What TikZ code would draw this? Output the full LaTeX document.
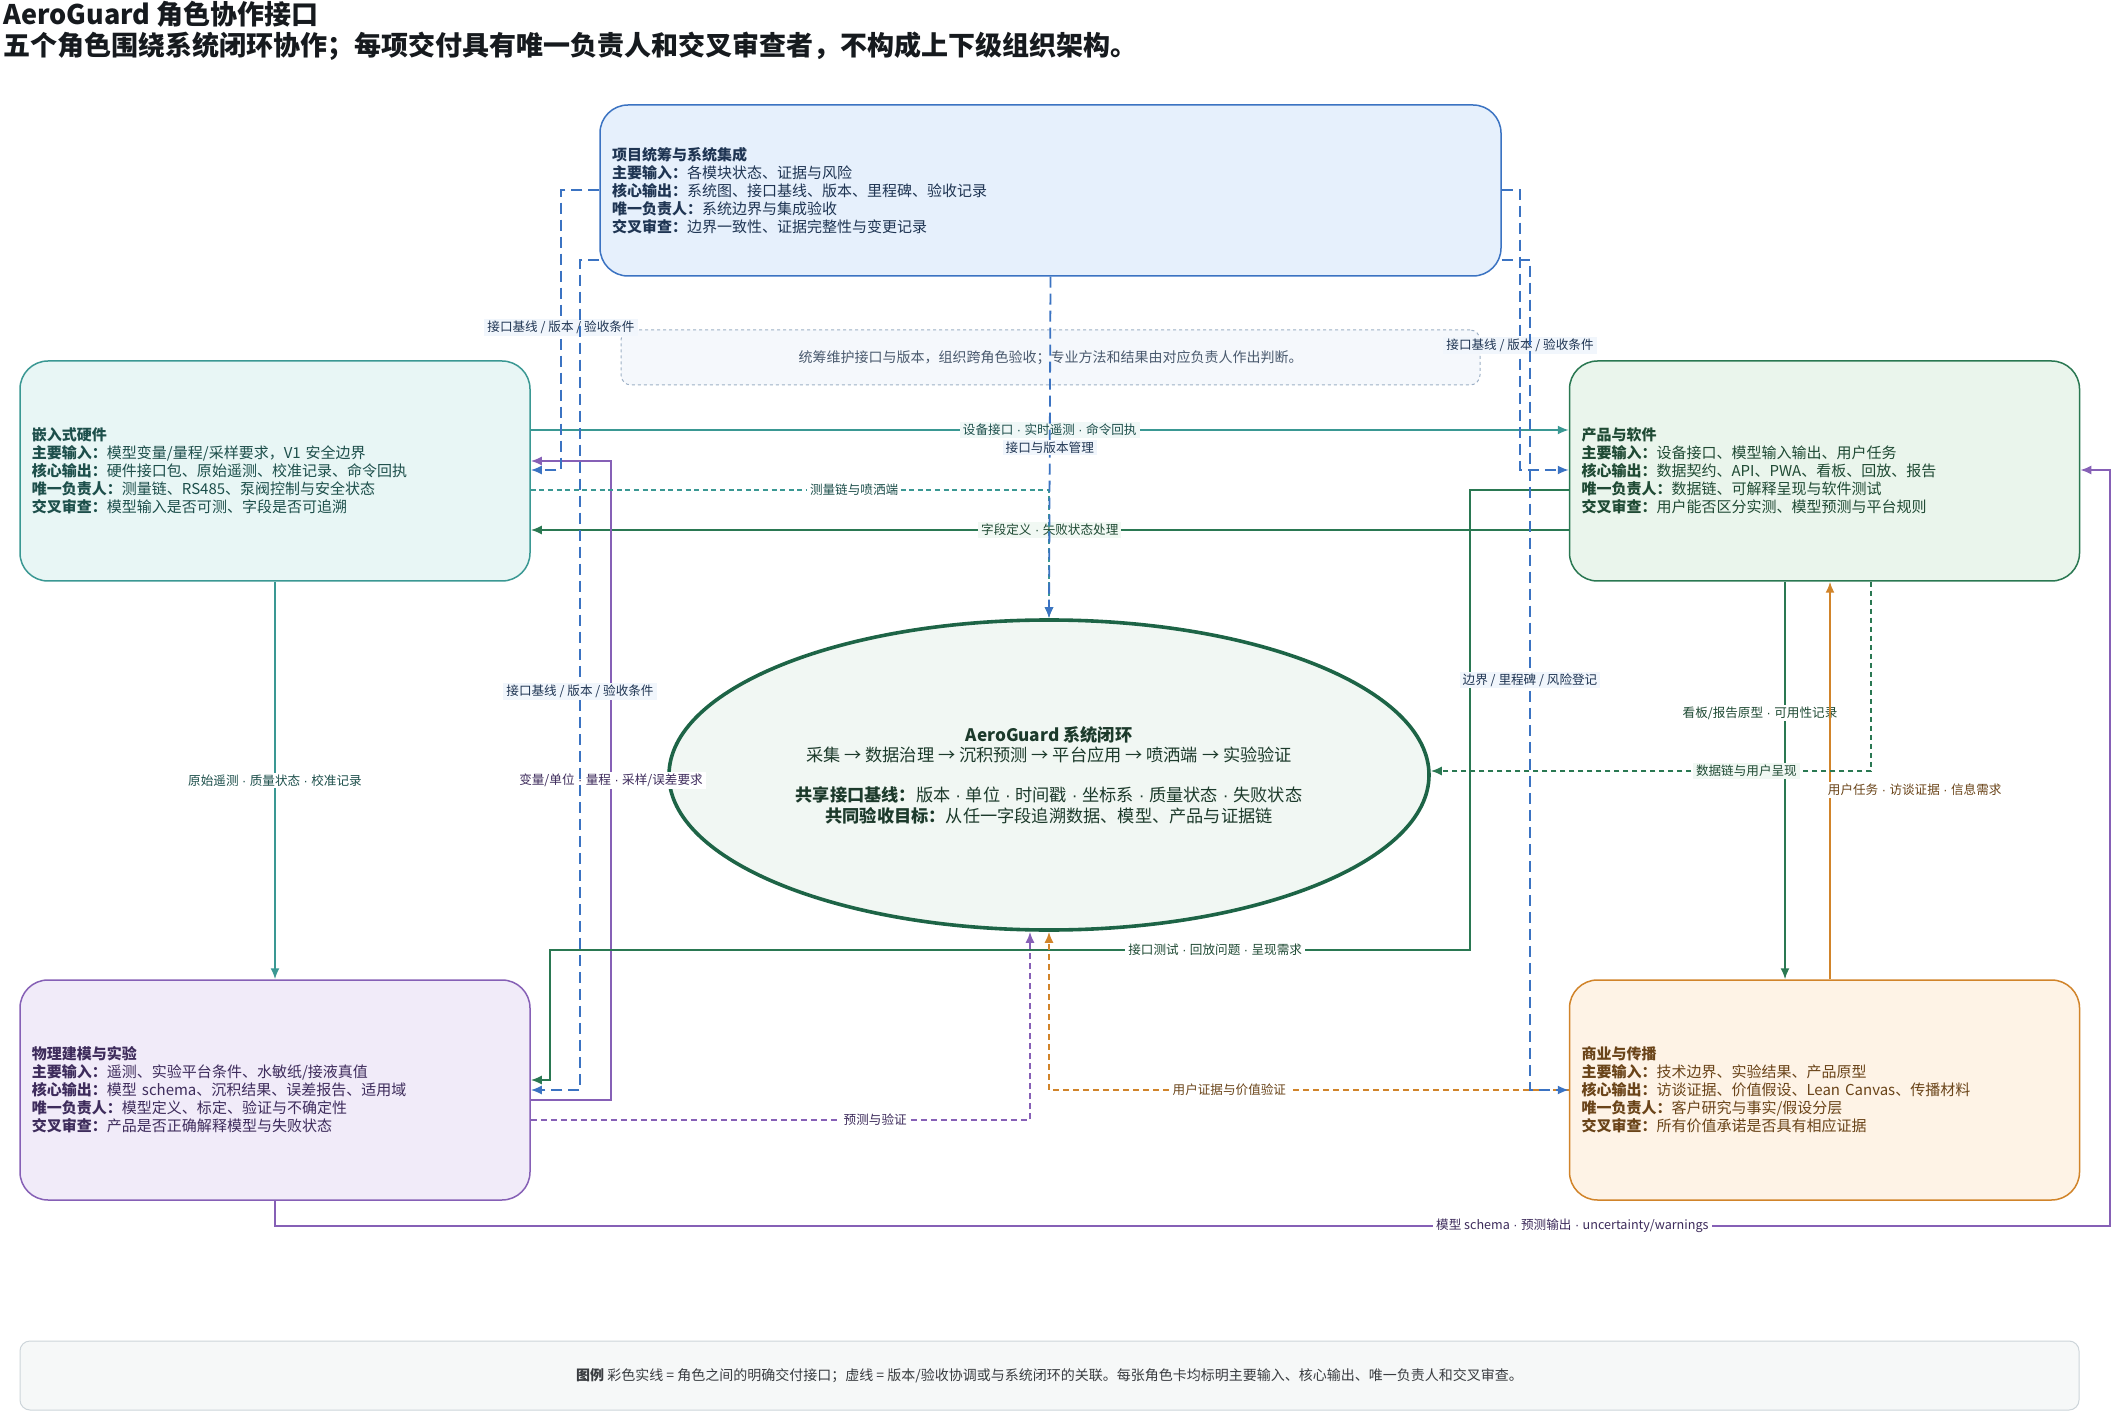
\documentclass[tikz,border=0pt]{standalone}
\usepackage{fontspec}
\setmainfont{Noto Sans CJK SC}
\newfontfamily\dotfont{Liberation Sans}
\newcommand{\mdot}{{\dotfont\ ·\ }}
\usepackage{tikz}
\usetikzlibrary{arrows.meta,positioning,shapes.geometric}
\definecolor{Tinta}{HTML}{161A1E}
\definecolor{BlueLine}{HTML}{3B73C2}
\definecolor{BlueFill}{HTML}{E6F0FC}
\definecolor{BlueText}{HTML}{1F3553}
\definecolor{BlueTag}{HTML}{F1F6FC}
\definecolor{TealLine}{HTML}{3A9893}
\definecolor{TealFill}{HTML}{E8F6F5}
\definecolor{TealText}{HTML}{1D4F4B}
\definecolor{TealTag}{HTML}{F0F8F7}
\definecolor{GreenLine}{HTML}{2A7852}
\definecolor{GreenFill}{HTML}{EAF5EC}
\definecolor{GreenText}{HTML}{1F4A34}
\definecolor{GreenTag}{HTML}{F1F8F3}
\definecolor{LoopLine}{HTML}{1D6446}
\definecolor{LoopFill}{HTML}{F1F7F3}
\definecolor{LoopText}{HTML}{1C3A2B}
\definecolor{PurpleLine}{HTML}{8660B6}
\definecolor{PurpleFill}{HTML}{F1EBF9}
\definecolor{PurpleText}{HTML}{3E2C5C}
\definecolor{PurpleTag}{HTML}{F7F3FC}
\definecolor{OrangeLine}{HTML}{D1842A}
\definecolor{OrangeFill}{HTML}{FEF3E6}
\definecolor{OrangeText}{HTML}{6A4419}
\definecolor{OrangeTag}{HTML}{FEF7EE}
\definecolor{NoteLine}{HTML}{9DB0C6}
\definecolor{NoteFill}{HTML}{F5F8FC}
\definecolor{NoteText}{HTML}{4A5A6E}
\definecolor{LegendLine}{HTML}{CDD5DA}
\definecolor{LegendFill}{HTML}{F6F8F8}

\begin{document}
\begin{tikzpicture}[
  x=0.5pt,y=-0.5pt,
  font=\fontsize{7.5}{9}\selectfont,
  card/.style={draw,rounded corners=14pt,line width=0.75pt,align=left,inner xsep=6pt,inner ysep=0pt,
    text width=243pt,minimum height=110pt},
  tag/.style={font=\fontsize{6.3}{7.5}\selectfont,inner xsep=1.5pt,inner ysep=1pt},
  flow/.style={line width=0.9pt,-{Latex[length=5.5pt,width=4.5pt]}},
  sync/.style={flow,BlueLine,dash pattern=on 5.5pt off 3pt},
  btag/.style={tag,fill=BlueTag,text=BlueText}
]
  \fill[white] (0,0) rectangle (2120,1411);
  \useasboundingbox (0,0) rectangle (2120,1411);

  % Titulo
  \node[anchor=base west,inner sep=0pt,text=Tinta,font=\fontsize{13.5}{16}\selectfont\bfseries] (title) at (3,25)
    {AeroGuard 角色协作接口};
  \node[anchor=base west,inner sep=0pt,text=Tinta,font=\fontsize{13.5}{16}\selectfont\bfseries] (subtitle) at (3,56)
    {五个角色围绕系统闭环协作；每项交付具有唯一负责人和交叉审查者，不构成上下级组织架构。};

  % Tarjetas de rol
  \node[card,draw=BlueLine,fill=BlueFill,text=BlueText,text width=438.5pt,minimum height=85.5pt] (top) at (1050.5,190.5)
    {\textbf{项目统筹与系统集成}\\
     \textbf{主要输入：}各模块状态、证据与风险\\
     \textbf{核心输出：}系统图、接口基线、版本、里程碑、验收记录\\
     \textbf{唯一负责人：}系统边界与集成验收\\
     \textbf{交叉审查：}边界一致性、证据完整性与变更记录};
  \node[draw=NoteLine,dash pattern=on 1.5pt off 1.5pt,line width=0.5pt,rounded corners=5pt,fill=NoteFill,
    minimum width=429.5pt,minimum height=27.5pt,text=NoteText,font=\fontsize{7}{8}\selectfont] (note) at (1050.5,357.5)
    {统筹维护接口与版本，组织跨角色验收；专业方法和结果由对应负责人作出判断。};
  \node[card,draw=TealLine,fill=TealFill,text=TealText] (hw) at (275,471)
    {\textbf{嵌入式硬件}\\
     \textbf{主要输入：}模型变量/量程/采样要求，V1 安全边界\\
     \textbf{核心输出：}硬件接口包、原始遥测、校准记录、命令回执\\
     \textbf{唯一负责人：}测量链、RS485、泵阀控制与安全状态\\
     \textbf{交叉审查：}模型输入是否可测、字段是否可追溯};
  \node[card,draw=GreenLine,fill=GreenFill,text=GreenText] (prod) at (1824.5,471)
    {\textbf{产品与软件}\\
     \textbf{主要输入：}设备接口、模型输入输出、用户任务\\
     \textbf{核心输出：}数据契约、API、PWA、看板、回放、报告\\
     \textbf{唯一负责人：}数据链、可解释呈现与软件测试\\
     \textbf{交叉审查：}用户能否区分实测、模型预测与平台规则};
  \node[card,draw=PurpleLine,fill=PurpleFill,text=PurpleText] (phys) at (275,1090)
    {\textbf{物理建模与实验}\\
     \textbf{主要输入：}遥测、实验平台条件、水敏纸/接液真值\\
     \textbf{核心输出：}模型 schema、沉积结果、误差报告、适用域\\
     \textbf{唯一负责人：}模型定义、标定、验证与不确定性\\
     \textbf{交叉审查：}产品是否正确解释模型与失败状态};
  \node[card,draw=OrangeLine,fill=OrangeFill,text=OrangeText] (biz) at (1824.5,1090)
    {\textbf{商业与传播}\\
     \textbf{主要输入：}技术边界、实验结果、产品原型\\
     \textbf{核心输出：}访谈证据、价值假设、Lean Canvas、传播材料\\
     \textbf{唯一负责人：}客户研究与事实/假设分层\\
     \textbf{交叉审查：}所有价值承诺是否具有相应证据};

  % Sistema en el centro
  \node[ellipse,draw=LoopLine,line width=1.8pt,fill=LoopFill,inner sep=0pt,minimum width=380pt,minimum height=155pt] (sys) at (1049,775) {};
  \node[align=center,text=LoopText,font=\fontsize{8.6}{10.1}\selectfont] (systext) at (sys.center)
    {\textbf{AeroGuard 系统闭环}\\
     采集 → 数据治理 → 沉积预测 → 平台应用 → 喷洒端 → 实验验证\\[10.1pt]
     \textbf{共享接口基线：}版本\mdot 单位\mdot 时间戳\mdot 坐标系\mdot 质量状态\mdot 失败状态\\
     \textbf{共同验收目标：}从任一字段追溯数据、模型、产品与证据链};

  % Entregas entre roles
  \draw[flow,TealLine] (hw.east |- 0,430) -- node[tag,fill=TealTag,text=TealText]{设备接口\mdot 实时遥测\mdot 命令回执} (prod.west |- 0,430);
  \draw[flow,GreenLine] (prod.west |- 0,530) -- node[tag,fill=GreenTag,text=GreenText]{字段定义\mdot 失败状态处理} (hw.east |- 0,530);
  \draw[flow,TealLine] (hw.south) -- node[tag,fill=white,text=TealText]{原始遥测\mdot 质量状态\mdot 校准记录} (phys.north);
  \draw[flow,PurpleLine] (phys.east |- 0,1100) -- (611,1100) -- node[tag,fill=white,text=PurpleText]{变量/单位\mdot 量程\mdot 采样/误差要求} (611,461) -- (hw.east |- 0,461);
  \draw[flow,GreenLine] (prod.west |- 0,490) -- (1470,490) -- (1470,950)
    -- node[tag,fill=white,text=GreenText,pos=0.277]{接口测试\mdot 回放问题\mdot 呈现需求} (550,950) -- (550,1080) -- (phys.east |- 0,1080);
  \draw[flow,PurpleLine] (phys.south) -- (phys.south |- 0,1226)
    -- node[tag,fill=white,text=PurpleText,pos=0.707]{模型 schema\mdot 预测输出\mdot uncertainty/warnings} (2110,1226) -- (2110,470) -- (prod.east |- 0,470);
  \draw[flow,GreenLine] (prod.south -| 1785,0) -- node[tag,fill=white,text=GreenText,pos=0.33,xshift=-12.5pt]{看板/报告原型\mdot 可用性记录} (biz.north -| 1785,0);
  \draw[flow,OrangeLine] (biz.north -| 1830,0) -- node[tag,fill=white,text=OrangeText,pos=0.476,anchor=west,xshift=-3pt]{用户任务\mdot 访谈证据\mdot 信息需求} (prod.south -| 1830,0);

  % Relaciones con el sistema (lineas discontinuas)
  \draw[flow,TealLine,dash pattern=on 2.5pt off 1.8pt] (hw.east |- 0,490) -- node[tag,fill=white,text=TealText,pos=0.624]{测量链与喷洒端} (sys.north |- 0,490) -- (sys.north);
  \draw[flow,GreenLine,dash pattern=on 2.5pt off 2pt] (prod.south -| 1871,0) -- (1871,771) -- node[tag,fill=GreenTag,text=GreenText,pos=0.283]{数据链与用户呈现} (sys.east |- 0,771);
  \draw[flow,PurpleLine,dash pattern=on 3pt off 2pt] (phys.east |- 0,1120) -- node[tag,fill=white,text=PurpleText,pos=0.69]{预测与验证} (1030,1120) -- (sys.south -| 1030,0);
  \draw[flow,OrangeLine,dash pattern=on 3pt off 2pt] (biz.west |- 0,1090) -- node[tag,fill=white,text=OrangeText,pos=0.653]{用户证据与价值验证} (sys.south |- 0,1090) -- (sys.south);

  % Coordinacion de interfaces y versiones
  \draw[sync] (top.south) -- node[btag]{接口与版本管理} (sys.north);
  \draw[sync] (top.west |- 0,190) -- (561,190) -- node[btag,pos=0.49]{接口基线 / 版本 / 验收条件} (561,470) -- (hw.east |- 0,470);
  \draw[sync] (top.west |- 0,260) -- (580,260) -- node[btag,pos=0.52]{接口基线 / 版本 / 验收条件} (580,1090) -- (phys.east |- 0,1090);
  \draw[sync] (top.east |- 0,190) -- (1520,190) -- node[btag,pos=0.554]{接口基线 / 版本 / 验收条件} (1520,470) -- (prod.west |- 0,470);
  \draw[sync] (top.east |- 0,260) -- (1530,260) -- node[btag,pos=0.506]{边界 / 里程碑 / 风险登记} (1530,1090) -- (biz.west |- 0,1090);

  % Leyenda
  \node[draw=LegendLine,line width=0.5pt,rounded corners=5pt,fill=LegendFill,minimum width=1029.5pt,minimum height=34.5pt,
    text=Tinta!85,font=\fontsize{7}{8}\selectfont] (legend) at (1049.5,1375.5)
    {\textbf{图例} 彩色实线 = 角色之间的明确交付接口；虚线 = 版本/验收协调或与系统闭环的关联。每张角色卡均标明主要输入、核心输出、唯一负责人和交叉审查。};
\end{tikzpicture}
\end{document}
